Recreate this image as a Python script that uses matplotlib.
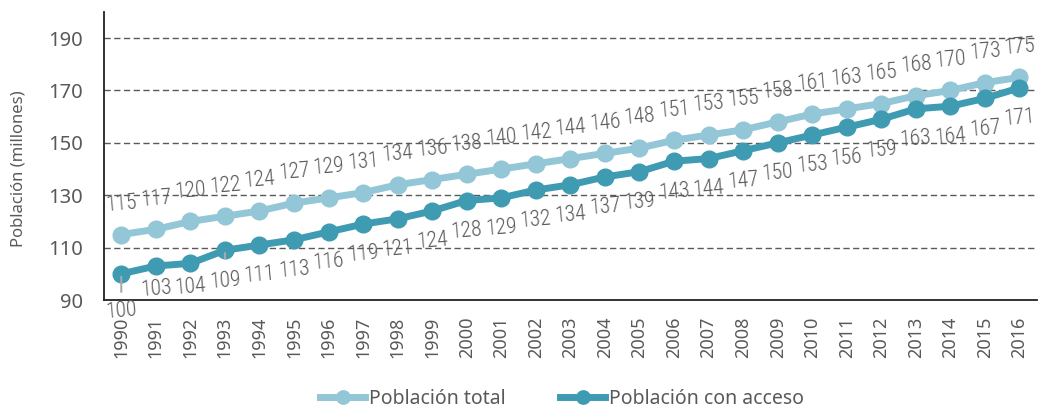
import matplotlib.pyplot as plt

years = [str(y) for y in range(1990, 2017)]
poblacion_total = [115, 117, 120, 122, 124, 127, 129, 131, 134, 136, 138, 140, 142, 144,
                   146, 148, 151, 153, 155, 158, 161, 163, 165, 168, 170, 173, 175]
poblacion_acceso = [100, 103, 104, 109, 111, 113, 116, 119, 121, 124, 128, 129, 132, 134,
                    137, 139, 143, 144, 147, 150, 153, 156, 159, 163, 164, 167, 171]

c_total = '#93c6d6'
c_acceso = '#3f9bb2'
gris = '#595959'
label_font = ['Roboto Condensed', 'Roboto', 'DejaVu Sans']

plt.rcParams['font.family'] = ['Noto Sans', 'DejaVu Sans']

fig = plt.figure(figsize=(10.41, 4.11), dpi=100)
ax = fig.add_axes([0.0999, 0.270, 0.896, 0.701])

x = list(range(len(years)))
ax.plot(x, poblacion_total, color=c_total, lw=5, marker='o', ms=12, label='Población total', zorder=3)
ax.plot(x, poblacion_acceso, color=c_acceso, lw=5, marker='o', ms=12, label='Población con acceso', zorder=3)

# etiquetas de datos
for i, v in enumerate(poblacion_total):
    ax.annotate(str(v), (i, v), xytext=(0, 22), textcoords='offset points', ha='center', va='center',
                fontsize=15.5, color=gris, family=label_font, weight='light', rotation=5)
for i, v in enumerate(poblacion_acceso):
    dy = -22
    if i == 0:
        dy = -27
    elif i in (1, 2):
        dy = -17
    ax.annotate(str(v), (i, v), xytext=(0, dy), textcoords='offset points', ha='center', va='center',
                fontsize=15.5, color=gris, family=label_font, weight='light', rotation=5)
# líneas guía
ax.annotate('', (0, poblacion_acceso[0]), xytext=(0, -15), textcoords='offset points',
            arrowprops=dict(arrowstyle='-', color='#aaaaaa', lw=1.5))
ax.annotate('', (3, poblacion_acceso[3]), xytext=(0, -8), textcoords='offset points',
            arrowprops=dict(arrowstyle='-', color='#aaaaaa', lw=1.5))

ax.set_xlim(-0.5, len(years) - 0.5)
ax.set_ylim(90, 200)
yticks = list(range(90, 191, 20))
ax.set_yticks(yticks)
ax.set_yticklabels([str(t) for t in yticks], fontsize=14.5, color=gris)
ax.set_xticks(x)
ax.set_xticklabels(years, rotation=90, fontsize=13, color=gris)
ax.tick_params(axis='y', length=0, pad=15)
ax.tick_params(axis='x', length=0, pad=12)
for yv in range(110, 191, 20):
    ax.axhline(yv, color=gris, lw=1, ls=(0, (4.5, 2.5)), zorder=1)

for s in ['top', 'right']:
    ax.spines[s].set_visible(False)
ax.spines['left'].set_color('#222222')
ax.spines['bottom'].set_color('#222222')
ax.spines['left'].set_linewidth(1.3)
ax.spines['bottom'].set_linewidth(1.3)

ax.set_ylabel('Población (millones)', fontsize=12, color=gris)
ax.yaxis.set_label_coords(-0.083, 0.455)

fig.legend(loc='center', bbox_to_anchor=(0.54, 0.03), ncol=2, frameon=False, fontsize=14,
           labelcolor=gris, handlelength=2.3, handletextpad=0.2, columnspacing=2.8, markerscale=0.8)

fig.savefig('out.png', dpi=100)
